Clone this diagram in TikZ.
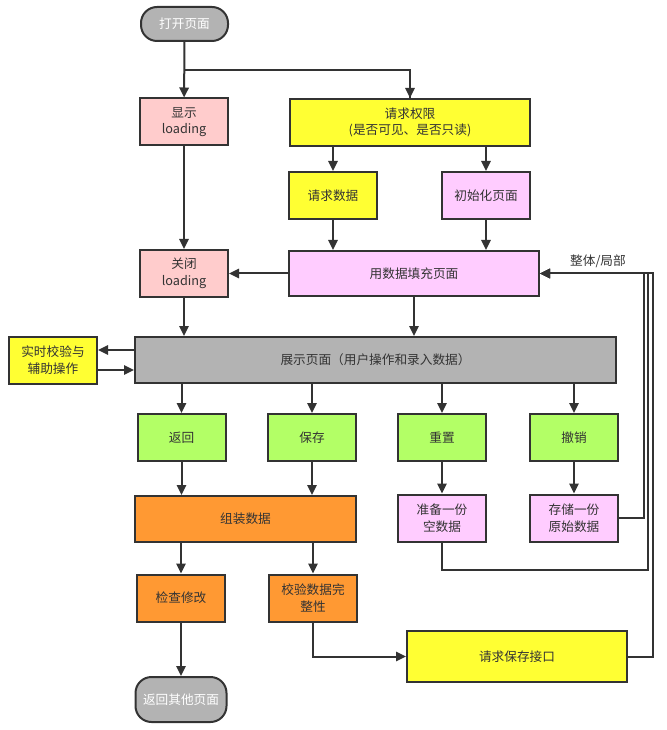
\documentclass[tikz,border=0pt]{standalone}
\usepackage{fontspec}
\setmainfont{Noto Sans CJK SC}
\usepackage{tikz}
\usetikzlibrary{arrows.meta, positioning}
\definecolor{ink}{RGB}{51,51,51}
\definecolor{grayfill}{RGB}{179,179,179}
\definecolor{rosefill}{RGB}{255,204,204}
\definecolor{lemon}{RGB}{255,255,51}
\definecolor{lilac}{RGB}{255,204,255}
\definecolor{lime}{RGB}{179,255,102}
\definecolor{tangerine}{RGB}{255,153,51}

\begin{document}
\begin{tikzpicture}[x=0.75pt, y=-0.75pt,
    font=\fontsize{9.5}{12.5}\selectfont,
    box/.style={draw=ink, line width=1.5pt, text=ink, align=center,
                inner sep=2pt, minimum width=66pt, minimum height=35.25pt},
    term/.style={draw=ink, line width=1.5pt, fill=grayfill, text=white,
                 rounded corners=12pt, minimum height=25.5pt},
    arr/.style={draw=ink, line width=1.5pt, -{Triangle[length=7.5pt, width=7pt]}},
    wire/.style={draw=ink, line width=1.5pt}]
  \useasboundingbox (0,0) rectangle (666,730);
  % top part
  \node[term, minimum width=65.25pt] (open) at (184.5,24) {打开页面};
  \node[box, fill=rosefill] (showload) at (184,122) {显示\\loading};
  \node[box, fill=lemon, minimum width=180pt] (perm) at (410,122.5)
    {请求权限\\(是否可见、是否只读)};
  \node[box, fill=lemon] (reqdata) at (333,195.5) {请求数据};
  \node[box, fill=lilac] (initpage) at (486,195.5) {初始化页面};
  \node[box, fill=rosefill] (closeload) at (184,273.5) {关闭\\loading};
  \node[box, fill=lilac, minimum width=187.5pt, minimum height=33.75pt]
    (fillpage) at (414,273.5) {用数据填充页面};
  \node[text=ink] (partlabel) at (598,261) {整体/局部};
  % main page
  \node[box, fill=lemon] (check) at (53,360) {实时校验与\\辅助操作};
  \node[box, fill=grayfill, minimum width=360.75pt, minimum height=34.5pt]
    (page) at (375.5,360) {展示页面（用户操作和录入数据）};
  % actions
  \node[box, fill=lime] (back) at (181.5,437.5) {返回};
  \node[box, fill=lime] (save) at (312,437.5) {保存};
  \node[box, fill=lime] (reset) at (442,437.5) {重置};
  \node[box, fill=lime] (undo) at (574,437.5) {撤销};
  \node[box, fill=tangerine, minimum width=165.75pt, minimum height=34.5pt]
    (assemble) at (245.5,519) {组装数据};
  \node[box, fill=lilac] (emptydata) at (442,518) {准备一份\\空数据};
  \node[box, fill=lilac] (origdata) at (574,518) {存储一份\\原始数据};
  \node[box, fill=tangerine] (diff) at (181,598) {检查修改};
  \node[box, fill=tangerine] (validate) at (313,598) {校验数据完\\整性};
  \node[box, fill=lemon, minimum width=165pt, minimum height=38.25pt]
    (saveapi) at (517,656.5) {请求保存接口};
  \node[term, minimum width=68.25pt, minimum height=33.75pt] (leave)
    at (181,699.5) {返回其他页面};
  % helper points
  \coordinate (split) at (184.5,70);
  \coordinate (bus1) at (643.5,273.5);
  \coordinate (bus2) at (648,273.5);
  \coordinate (bus3) at (652.5,273.5);
  % connectors
  \draw[arr] (open) -- (showload);
  \draw[wire] (split) -| (perm.north);
  \draw[arr] (split -| perm) -- (perm);
  \draw[arr] (showload) -- (closeload);
  \draw[arr] (perm.south -| reqdata) -- (reqdata);
  \draw[arr] (perm.south -| initpage) -- (initpage);
  \draw[arr] (reqdata) -- (reqdata |- fillpage.north);
  \draw[arr] (initpage) -- (initpage |- fillpage.north);
  \draw[arr] (fillpage) -- (closeload);
  \draw[arr] (closeload) -- (closeload |- page.north);
  \draw[arr] (fillpage) -- (fillpage |- page.north);
  \draw[arr] ([yshift=7.5pt]page.west) -- ([yshift=7.5pt]check.east);
  \draw[arr] ([yshift=-7.5pt]check.east) -- ([yshift=-7.5pt]page.west);
  \foreach \act in {back, save, reset, undo}
    \draw[arr] (page.south -| \act) -- (\act);
  \draw[arr] (back) -- (back |- assemble.north);
  \draw[arr] (save) -- (save |- assemble.north);
  \draw[arr] (reset) -- (emptydata);
  \draw[arr] (undo) -- (origdata);
  \draw[arr] (assemble.south -| diff) -- (diff);
  \draw[arr] (assemble.south -| validate) -- (validate);
  \draw[arr] (diff) -- (diff |- leave.north);
  \draw[arr] (validate) |- (saveapi);
  % back to the page
  \draw[arr] (origdata) -| (bus1) -- (fillpage);
  \draw[arr] (emptydata.south) -- ++(0,27) -| (bus2) -- (fillpage);
  \draw[arr] (saveapi) -| (bus3) -- (fillpage);
\end{tikzpicture}
\end{document}
